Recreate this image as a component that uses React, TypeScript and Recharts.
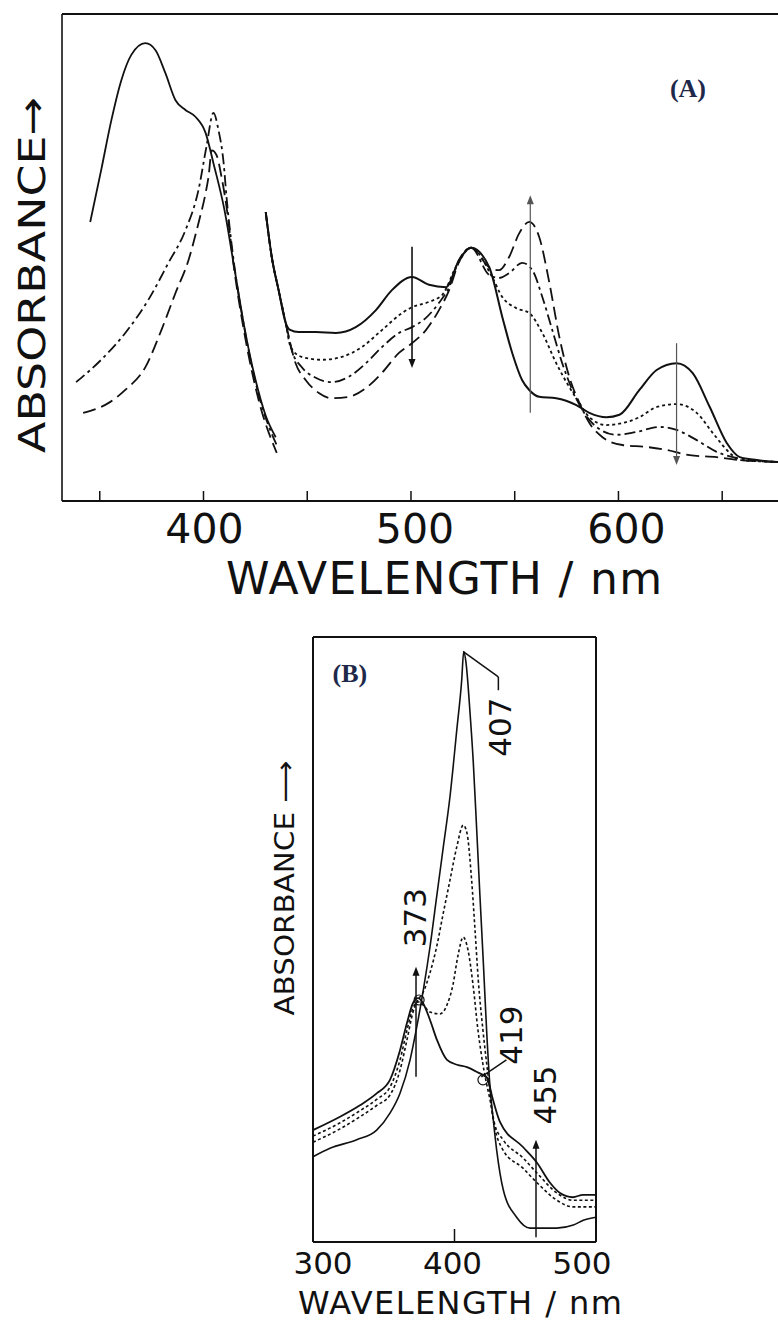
import React from "react";
import { LineChart, Line, XAxis, YAxis, ReferenceLine, ReferenceDot } from "recharts";

type Pt = [number, number]; // [wavelength nm, absorbance (arb. units)]

// ---- panel A: Soret band ----
const aSolidSoret: Pt[] = [
  [345.4, 57.3], [350.7, 68.0], [355.6, 78.2], [360.4, 86.4], [365.2, 91.6], [372.0, 94.0],
  [376.8, 92.6], [381.6, 87.9], [386.5, 82.3], [391.3, 80.3], [396.1, 78.9], [401.0, 75.6],
  [405.0, 69.0], [410.0, 60.0], [415.0, 47.5], [420.0, 35.0], [425.0, 25.0], [430.0, 17.5],
  [434.8, 13.1],
];
const aDashDotSoret: Pt[] = [
  [338.6, 24.4], [350.7, 29.0], [362.3, 34.5], [373.4, 41.3], [383.1, 48.9], [391.3, 55.6],
  [397.6, 63.9], [401.4, 72.7], [404.8, 79.7], [407.2, 76.2], [409.7, 69.4], [411.1, 62.4],
  [414.5, 49.5], [420.3, 34.1], [426.6, 21.8], [435.7, 11.1],
];
const aLongDashSoret: Pt[] = [
  [342.0, 18.1], [354.1, 20.1], [362.3, 22.8], [372.0, 27.5], [379.7, 35.1], [386.5, 42.7],
  [392.8, 49.5], [397.6, 57.1], [401.0, 63.2], [402.4, 66.5], [404.0, 72.0], [406.3, 71.0],
  [408.7, 66.5], [411.1, 60.4], [414.5, 48.5], [420.3, 33.1], [426.6, 20.7], [435.3, 9.9],
];

// ---- panel A: visible bands ----
const aSolidVis: Pt[] = [
  [430.0, 59.3], [432.9, 50.1], [436.2, 43.3], [439.6, 36.6], [441.5, 35.2], [445.9, 34.7],
  [454.1, 34.7], [463.8, 34.5], [473.4, 35.7], [483.1, 39.2], [490.8, 43.3], [500.5, 46.0],
  [508.7, 44.4], [516.9, 43.9], [523.2, 49.5], [529.0, 52.0], [537.7, 48.0], [544.0, 37.8],
  [548.8, 30.4], [553.6, 24.8], [557.0, 22.8], [561.8, 21.4], [570.0, 21.1], [579.7, 19.7],
  [586.0, 18.1], [594.2, 17.2], [600.5, 17.7], [610.1, 22.8], [618.4, 26.9], [628.0, 28.3],
  [635.7, 26.3], [644.0, 19.3], [652.2, 11.9], [658.5, 9.0], [666.7, 8.4], [676.8, 8.0],
  [687.5, 7.8],
];
const aDottedVis: Pt[] = [
  [430.0, 59.3], [432.9, 50.1], [436.2, 43.3], [439.6, 36.6], [442.0, 31.6], [447.3, 29.6],
  [457.0, 29.0], [466.7, 29.6], [476.3, 31.6], [486.0, 35.1], [495.7, 38.6], [500.5, 39.8],
  [508.7, 40.9], [515.0, 42.3], [522.2, 48.5], [529.0, 52.0], [539.1, 46.0], [544.0, 41.9],
  [550.7, 39.6], [557.0, 38.6], [563.3, 34.5], [570.0, 28.3], [576.3, 23.4], [581.2, 20.1],
  [586.0, 17.2], [594.2, 15.6], [601.9, 16.0], [610.1, 17.2], [618.4, 19.3], [628.0, 19.9],
  [637.7, 18.1], [645.4, 14.0], [653.6, 9.9], [658.5, 8.4], [676.8, 8.0], [687.5, 7.8],
];
const aDashDotVis: Pt[] = [
  [430.0, 59.3], [432.9, 50.1], [436.2, 43.3], [439.6, 36.6], [442.5, 31.0], [447.3, 27.5],
  [454.1, 25.3], [461.8, 24.4], [470.0, 25.5], [478.3, 28.3], [486.0, 31.6], [494.2, 34.5],
  [500.5, 35.7], [507.2, 37.6], [513.5, 40.7], [518.4, 43.9], [523.2, 49.5], [529.0, 52.0],
  [537.7, 46.4], [542.5, 45.8], [547.3, 46.8], [553.6, 48.9], [558.5, 47.4], [563.3, 41.9],
  [568.1, 35.1], [572.9, 28.3], [577.8, 22.8], [582.6, 18.7], [589.4, 15.2], [599.0, 13.6],
  [608.7, 14.2], [619.8, 15.2], [628.0, 14.6], [637.7, 12.5], [647.3, 10.1], [655.1, 9.0],
  [676.8, 8.0], [687.5, 7.8],
];
const aLongDashVis: Pt[] = [
  [430.0, 59.3], [432.9, 50.1], [436.2, 43.3], [439.6, 36.6], [444.4, 28.3], [449.3, 24.8],
  [455.6, 22.2], [461.8, 21.1], [470.0, 21.4], [478.3, 23.2], [486.0, 26.3], [494.2, 30.4],
  [500.5, 32.4], [507.2, 35.1], [513.5, 39.2], [518.4, 43.3], [523.2, 49.1], [529.0, 52.0],
  [537.7, 48.0], [542.5, 47.4], [547.3, 50.1], [552.2, 55.0], [557.0, 57.3], [561.8, 54.2],
  [566.7, 44.8], [571.5, 33.7], [576.3, 25.5], [581.2, 20.1], [586.0, 16.0], [592.3, 13.1],
  [601.9, 11.5], [613.5, 11.1], [623.2, 10.5], [634.3, 9.4], [647.3, 9.0], [658.5, 8.4],
  [676.8, 8.0], [687.5, 7.8],
];

const aTicks = [350, 400, 450, 500, 550, 600, 650];
const aTickLabels = [400, 500, 600];
// vertical change arrows: wavelength, start absorbance, end absorbance (head at end)
const aArrows = [
  { nm: 500.5, from: 52.2, to: 27.3 },
  { nm: 557.5, from: 18.1, to: 62.8 },
  { nm: 628.0, from: 32.4, to: 7.4 },
];

// ---- panel B ----
const bFinal: Pt[] = [
  [300, 18.5], [319.1, 20.7], [333.2, 22.6], [345.2, 24.6], [354.4, 26.8], [361.5, 31.7],
  [366.4, 36.2], [370.7, 39.5], [374.2, 40.3], [377.7, 39.5], [382.7, 36.7], [387.6, 33.4],
  [394.7, 30.1], [401.8, 29.3], [408.8, 28.9], [415.9, 28.1], [423.0, 27.1], [427.2, 23.5],
  [432.2, 19.8], [448.4, 15.7], [458.3, 13.1], [467.5, 9.8], [474.6, 8.1], [483.7, 7.4],
  [490.8, 7.8], [500, 7.8],
];
const bInitial: Pt[] = [
  [300, 14.1], [312.0, 15.5], [330.9, 16.9], [345.0, 18.5], [354.4, 21.3], [361.5, 24.6],
  [368.6, 30.1], [373.3, 35.5], [378.0, 41.7], [382.7, 48.8], [387.4, 57.1], [392.1, 65.3],
  [396.8, 73.6], [401.6, 84.6], [405.1, 92.9], [406.5, 97.6], [408.0, 96.0], [411.0, 87.4],
  [413.3, 79.2], [415.7, 68.1], [418.0, 57.1], [420.4, 46.1], [422.8, 34.5], [425.1, 25.6],
  [427.4, 20.2], [429.8, 15.2], [434.5, 8.6], [443.9, 4.1], [453.4, 2.3], [462.8, 2.3],
  [472.2, 2.3], [484.0, 2.8], [491.0, 3.6], [500, 4.1],
];
const bMid1: Pt[] = [
  [300, 17.5], [319.1, 19.7], [333.2, 21.7], [345.2, 23.6], [354.4, 25.6], [361.5, 30.1],
  [366.4, 35.0], [370.7, 38.7], [374.2, 39.7], [377.7, 39.2], [382.7, 38.0], [389.8, 37.7],
  [394.7, 39.2], [398.9, 42.5], [402.5, 47.4], [406.2, 50.4], [409.5, 48.3], [413.1, 42.5],
  [416.6, 35.0], [420.8, 28.4], [425.1, 23.5], [428.6, 19.3], [434.3, 16.9], [448.4, 13.9],
  [458.3, 11.4], [472.4, 8.1], [483.7, 6.9], [500, 6.9],
];
const bMid2: Pt[] = [
  [300, 16.5], [319.1, 18.7], [333.2, 20.7], [345.2, 22.6], [354.4, 24.3], [361.5, 28.4],
  [366.4, 33.4], [370.7, 38.0], [374.2, 40.0], [377.7, 41.2], [382.7, 44.5], [387.4, 48.8],
  [392.1, 54.4], [396.8, 59.8], [401.6, 65.3], [406.2, 68.9], [408.8, 67.6], [412.1, 59.8],
  [414.5, 51.6], [416.8, 43.3], [420.1, 35.0], [423.7, 27.6], [427.2, 20.5], [434.3, 15.2],
  [448.4, 12.2], [458.3, 9.8], [472.4, 6.9], [483.7, 5.8], [500, 5.8],
];

const bTicks = [300, 400, 500];
const bArrows = [
  { nm: 372.8, from: 27.3, to: 45.5 },
  { nm: 457.6, from: 0.8, to: 16.9 },
];
const bLeader407: Pt[] = [[406.2, 97.6], [431.0, 93.4], [431.0, 91.2]];
const bLeader419: Pt[] = [[419.0, 27.3], [436.7, 30.1]];
const bRings: Pt[] = [[375.0, 40.0], [420.1, 26.8]];
const bPeakLabels = [
  { text: "373", nm: 372.1, a: 53.6 },
  { text: "407", nm: 432.2, a: 85.1 },
  { text: "419", nm: 439.9, a: 34.2 },
  { text: "455", nm: 464.0, a: 24.3 },
];

const INK = "#111";
const FONT = "DejaVu Sans";

const rows = (pts: Pt[]) => pts.map(([nm, a]) => ({ nm, a }));

const arrowShape = (color: string, width: number) => (p: any) => {
  const { x1, y1, x2, y2 } = p;
  const dir = y2 < y1 ? -1 : 1;
  const head = 9;
  const half = 3.5;
  return (
    <g>
      <line x1={x1} y1={y1} x2={x2} y2={y2 - dir * head * 0.5} stroke={color} strokeWidth={width} />
      <path
        d={`M${x2},${y2} L${x2 - half},${y2 - dir * head} L${x2 + half},${y2 - dir * head} Z`}
        fill={color}
      />
    </g>
  );
};

const center = (props: any) => {
  const vb = props.viewBox || {};
  return { cx: (vb.x ?? 0) + (vb.width ?? 0) / 2, cy: (vb.y ?? 0) + (vb.height ?? 0) / 2 };
};

const rotText = (txt: string, size: number) => (props: any) => {
  const { cx, cy } = center(props);
  return (
    <text
      x={cx}
      y={cy}
      transform={`rotate(-90 ${cx} ${cy})`}
      textAnchor="middle"
      dominantBaseline="central"
      fontFamily={FONT}
      fontSize={size}
      fill={INK}
    >
      {txt}
    </text>
  );
};

const panelTitle = (txt: string) => (props: any) => {
  const { cx, cy } = center(props);
  return (
    <text
      x={cx}
      y={cy}
      textAnchor="middle"
      dominantBaseline="central"
      fontFamily="Liberation Serif"
      fontWeight="bold"
      fontSize={26}
      fill="#20284a"
    >
      {txt}
    </text>
  );
};

const aNudge: Record<number, number> = { 400: 1, 500: 4, 600: 8 };
const ATick = (props: any) => {
  const { x, y, payload } = props;
  if (!aTickLabels.includes(payload.value)) return <g />;
  return (
    <text x={x + (aNudge[payload.value] ?? 0)} y={y} textAnchor="middle" fontFamily={FONT} fontSize={41} fill={INK}>
      {payload.value}
    </text>
  );
};

const bNudge: Record<number, number> = { 300: 10, 400: -2, 500: -14 };
const BTick = (props: any) => {
  const { x, y, payload } = props;
  return (
    <text x={x + (bNudge[payload.value] ?? 0)} y={y} textAnchor="middle" fontFamily={FONT} fontSize={31} fill={INK}>
      {payload.value}
    </text>
  );
};

const aDomain: [number, number] = [331.8, 687.5];
const bDomain: [number, number] = [300, 500];

function PanelA() {
  const series = [
    { pts: aSolidSoret, dash: undefined, w: 1.8 },
    { pts: aDashDotSoret, dash: "11 4 3 4", w: 1.8 },
    { pts: aLongDashSoret, dash: "13 6", w: 1.8 },
    { pts: aSolidVis, dash: undefined, w: 2 },
    { pts: aDottedVis, dash: "3 3", w: 1.8 },
    { pts: aDashDotVis, dash: "11 4 3 4", w: 1.8 },
    { pts: aLongDashVis, dash: "13 6", w: 1.8 },
  ];
  return (
    <LineChart width={820} height={630} margin={{ top: 0, right: 20, bottom: 0, left: 2 }}>
      <XAxis
        xAxisId="top"
        orientation="top"
        type="number"
        dataKey="nm"
        domain={aDomain}
        ticks={aTicks}
        allowDataOverflow
        height={14}
        tick={false}
        tickSize={-10}
        axisLine={{ stroke: INK, strokeWidth: 2 }}
        tickLine={{ stroke: INK, strokeWidth: 1.5 }}
      />
      <XAxis
        type="number"
        dataKey="nm"
        domain={aDomain}
        ticks={aTicks}
        allowDataOverflow
        height={129}
        tick={<ATick />}
        tickSize={-10}
        tickMargin={52}
        axisLine={{ stroke: INK, strokeWidth: 2 }}
        tickLine={{ stroke: INK, strokeWidth: 1.5 }}
        label={{
          content: () => (
            <text x={444} y={594} textAnchor="middle" fontFamily={FONT} fontSize={44} fill={INK}
              textLength={436} lengthAdjust="spacing">
              WAVELENGTH / nm
            </text>
          ),
        }}
      />
      <YAxis
        type="number"
        domain={[0, 100]}
        width={60}
        allowDataOverflow
        tick={false}
        tickLine={false}
        axisLine={{ stroke: INK, strokeWidth: 1.6 }}
        label={{
          content: () => (
            <text x={32} y={275} transform="rotate(-90 32 275)" textAnchor="middle" dominantBaseline="central"
              fontFamily={FONT} fontSize={38} fill={INK} textLength={356} lengthAdjust="spacingAndGlyphs">
              ABSORBANCE→
            </text>
          ),
        }}
      />
      {series.map((s, i) => (
        <Line
          key={i}
          data={rows(s.pts)}
          dataKey="a"
          type="monotone"
          stroke={INK}
          strokeWidth={s.w}
          strokeDasharray={s.dash}
          dot={false}
          isAnimationActive={false}
        />
      ))}
      {aArrows.map((ar, i) => (
        <ReferenceLine
          key={`arr${i}`}
          segment={[{ x: ar.nm, y: ar.from }, { x: ar.nm, y: ar.to }]}
          shape={arrowShape(i === 0 ? INK : "#555", i === 0 ? 1.6 : 1.2)}
        />
      ))}
      <ReferenceDot x={633.5} y={84.8} r={0} fill="none" stroke="none" label={panelTitle("(A)")} />
    </LineChart>
  );
}

function PanelB() {
  const series = [
    { pts: bFinal, dash: undefined, w: 1.8 },
    { pts: bInitial, dash: undefined, w: 1.6 },
    { pts: bMid1, dash: "3 2.5", w: 1.6 },
    { pts: bMid2, dash: "3 2.5", w: 1.6 },
  ];
  return (
    <LineChart width={778} height={702} margin={{ top: 0, right: 168, bottom: 0, left: 253 }}>
      <XAxis
        xAxisId="top"
        orientation="top"
        type="number"
        dataKey="nm"
        domain={bDomain}
        allowDataOverflow
        height={17}
        tick={false}
        tickLine={false}
        axisLine={{ stroke: INK, strokeWidth: 2 }}
      />
      <XAxis
        type="number"
        dataKey="nm"
        domain={bDomain}
        ticks={bTicks}
        allowDataOverflow
        height={80}
        tick={<BTick />}
        tickSize={-13}
        tickMargin={45}
        axisLine={{ stroke: INK, strokeWidth: 2 }}
        tickLine={{ stroke: INK, strokeWidth: 1.5 }}
        label={{
          content: () => (
            <text x={460} y={694} textAnchor="middle" fontFamily={FONT} fontSize={32} fill={INK}
              textLength={324} lengthAdjust="spacing">
              WAVELENGTH / nm
            </text>
          ),
        }}
      />
      <YAxis
        type="number"
        domain={[0, 100]}
        width={60}
        allowDataOverflow
        tick={false}
        tickLine={false}
        axisLine={{ stroke: INK, strokeWidth: 2 }}
        label={{
          content: () => (
            <text x={285} y={268} transform="rotate(-90 285 268)" textAnchor="middle" dominantBaseline="central"
              fontFamily={FONT} fontSize={26} fill={INK} textLength={255} lengthAdjust="spacingAndGlyphs">
              ABSORBANCE ⟶
            </text>
          ),
        }}
      />
      <YAxis
        yAxisId="r"
        orientation="right"
        type="number"
        domain={[0, 100]}
        width={14}
        tick={false}
        tickLine={false}
        axisLine={{ stroke: INK, strokeWidth: 2 }}
      />
      {series.map((s, i) => (
        <Line
          key={i}
          data={rows(s.pts)}
          dataKey="a"
          type="monotone"
          stroke={INK}
          strokeWidth={s.w}
          strokeDasharray={s.dash}
          dot={false}
          isAnimationActive={false}
        />
      ))}
      {bArrows.map((ar, i) => (
        <ReferenceLine
          key={`arr${i}`}
          segment={[{ x: ar.nm, y: ar.from }, { x: ar.nm, y: ar.to }]}
          shape={arrowShape(INK, 1.5)}
        />
      ))}
      {[bLeader407, bLeader419].flatMap((pts, j) =>
        pts.slice(1).map((p, i) => (
          <ReferenceLine
            key={`lead${j}-${i}`}
            segment={[{ x: pts[i][0], y: pts[i][1] }, { x: p[0], y: p[1] }]}
            stroke={INK}
            strokeWidth={1.5}
          />
        ))
      )}
      {bRings.map(([nm, a], i) => (
        <ReferenceDot key={`ring${i}`} x={nm} y={a} r={5} fill="none" stroke={INK} strokeWidth={1.2} />
      ))}
      {bPeakLabels.map((l) => (
        <ReferenceDot key={l.text} x={l.nm} y={l.a} r={0} fill="none" stroke="none" label={rotText(l.text, 31)} />
      ))}
      <ReferenceDot x={326.1} y={93.9} r={0} fill="none" stroke="none" label={panelTitle("(B)")} />
    </LineChart>
  );
}

export default function App() {
  return (
    <div
      style={{
        position: "absolute",
        left: 0,
        top: 0,
        width: 778,
        height: 1322,
        overflow: "hidden",
        background: "#fff",
      }}
    >
      <div style={{ position: "absolute", left: 0, top: 0 }}>
        <PanelA />
      </div>
      <div style={{ position: "absolute", left: 0, top: 620 }}>
        <PanelB />
      </div>
    </div>
  );
}
